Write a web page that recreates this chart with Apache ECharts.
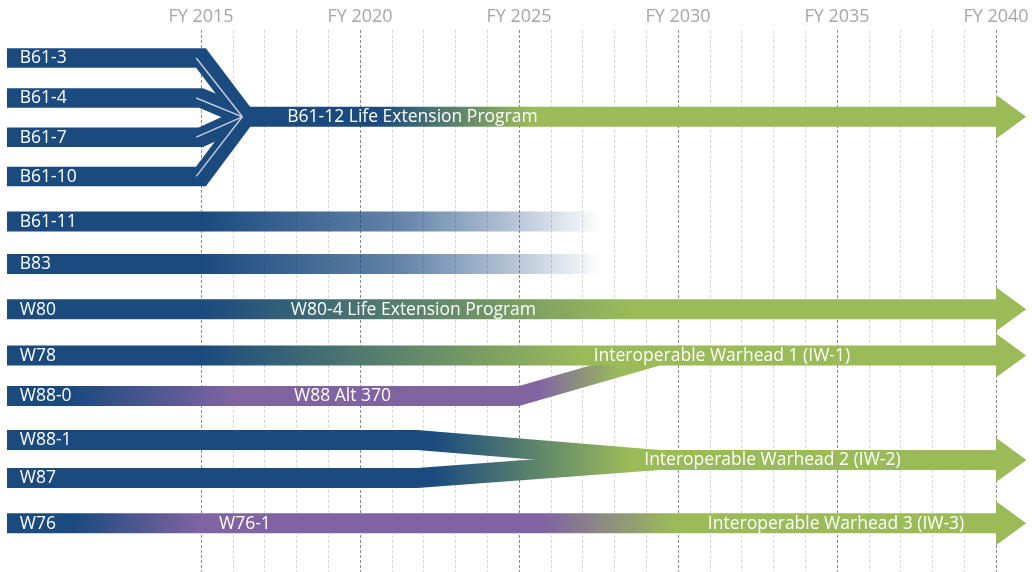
<!DOCTYPE html>
<html>
<head>
<meta charset="utf-8">
<script src="https://cdn.jsdelivr.net/npm/echarts@6/dist/echarts.min.js"></script>
<style>
html,body{margin:0;padding:0;background:#ffffff;}
#c{width:1032px;height:572px;}
</style>
</head>
<body>
<div id="c"></div>
<script>
// ---------------- DATA ----------------
const tickYears = [2015, 2020, 2025, 2030, 2035, 2040];
const tickLabels = ['FY 2015', 'FY 2020', 'FY 2025', 'FY 2030', 'FY 2035', 'FY 2040'];

// current systems (left labels) and the lane (row) each sits on
const rowNames = ['B61-3', 'B61-4', 'B61-7', 'B61-10', 'B61-11', 'B83', 'W80', 'W78', 'W88-0', 'W88-1', 'W87', 'W76'];
const rowLanes = [0.00, 1.00, 1.98, 2.96, 4.09, 5.15, 6.28, 7.44, 8.45, 9.55, 10.50, 11.63];
const rowStartYear = 2008.9;
const rowLabelYear = 2009.3;

// B61 family consolidation
const b61BendYear = 2015.0;
const b61MergeYear = 2016.4;
const b61SeamStartYear = 2014.85;
const b61SeamEndYear = 2016.3;

// follow-on programs (arrows to FY 2040)
const programNames = ['B61-12 Life Extension Program', 'W80-4 Life Extension Program', 'Interoperable Warhead 1 (IW-1)', 'Interoperable Warhead 2 (IW-2)', 'Interoperable Warhead 3 (IW-3)'];
const programLanes = [1.47, 6.28, 7.44, 10.05, 11.63];
const programStartYears = [2016.0, 2008.9, 2008.9, 2029.43, 2008.9];
const programLabelYears = [2021.65, 2021.68, 2031.38, 2032.97, 2034.97];
const programEndYear = 2040;
const arrowTipYear = 2040.95;

// retiring systems fade out
const fadeRows = ['B61-11', 'B83'];
const fadeEndYear = 2028.0;

// alterations
const altNames = ['W88 Alt 370', 'W76-1'];
const altLanes = [8.45, 11.63];
const altLabelYears = [2019.45, 2016.38];
const w880BendYear = 2025.0;     // W88-0 turns up into IW-1
const w880JoinYear = 2029.43;
const w881BendYear = 2021.8;     // W88-1 / W87 converge into IW-2

// colour transition years
const transB61_12 = [2020.6, 2025.4];
const transW80 = [2015.0, 2028.5];
const transW78 = [2015.0, 2027.0];
const transFade = [2015.0, 2021.3, 2024.5, 2027.6];
const transW88_0 = [2011.0, 2016.0, 2025.6, 2028.2];
const transIW2 = [2022.3, 2028.5];
const transW76 = [2011.0, 2015.0, 2025.8, 2029.9];

// ---------------- STYLE ----------------
const BLUE = '#1b4a7f', GREEN = '#9bbb59', PURPLE = '#8064a2';
const FADE_COLORS = [BLUE, 'rgba(27,74,127,0.68)', 'rgba(27,74,127,0.36)', 'rgba(27,74,127,0)'];
const BAR_HALF = 10, B61_STROKE = 19.5, ARROW_HALF = 22;
const FONT = '"Open Sans", "Noto Sans", sans-serif';
const LABEL_SIZE = 17.5, TICK_SIZE = 18;

function lane(name) { return rowLanes[rowNames.indexOf(name)]; }

// shape list (draw order)
const shapes = [];
for (let i = 0; i < 4; i++) {
  shapes.push({kind: 'stroke', pts: [[rowStartYear, rowLanes[i]], [b61BendYear, rowLanes[i]], [b61MergeYear, programLanes[0]]]});
}
shapes.push({kind: 'band', arrow: true, pts: [[programStartYears[0], programLanes[0]], [programEndYear, programLanes[0]]],
  grad: {years: transB61_12, colors: [BLUE, GREEN]}});
fadeRows.forEach(function (n) {
  shapes.push({kind: 'band', pts: [[rowStartYear, lane(n)], [fadeEndYear, lane(n)]], grad: {years: transFade, colors: FADE_COLORS}});
});
shapes.push({kind: 'band', arrow: true, pts: [[rowStartYear, programLanes[1]], [programEndYear, programLanes[1]]],
  grad: {years: transW80, colors: [BLUE, GREEN]}});
shapes.push({kind: 'band', pts: [[rowStartYear, lane('W88-0')], [w880BendYear, lane('W88-0')], [w880JoinYear, programLanes[2]]],
  grad: {years: transW88_0, colors: [BLUE, PURPLE, PURPLE, GREEN]}});
shapes.push({kind: 'band', arrow: true, pts: [[rowStartYear, programLanes[2]], [programEndYear, programLanes[2]]],
  grad: {years: transW78, colors: [BLUE, GREEN]}});
['W88-1', 'W87'].forEach(function (n) {
  shapes.push({kind: 'band', arrow: true, pts: [[rowStartYear, lane(n)], [w881BendYear, lane(n)], [programStartYears[3], programLanes[3]], [programEndYear, programLanes[3]]],
    grad: {years: transIW2, colors: [BLUE, GREEN]}});
});
shapes.push({kind: 'band', arrow: true, pts: [[rowStartYear, programLanes[4]], [programEndYear, programLanes[4]]],
  grad: {years: transW76, colors: [BLUE, PURPLE, PURPLE, GREEN]}});
for (let i = 0; i < 4; i++) {
  shapes.push({kind: 'seam', pts: [[b61SeamStartYear, rowLanes[i]], [b61SeamEndYear, programLanes[0]]]});
}
rowNames.forEach(function (n, i) {
  shapes.push({kind: 'text', text: n, pts: [[rowLabelYear, rowLanes[i]]], align: 'left'});
});
programNames.forEach(function (n, i) {
  shapes.push({kind: 'text', text: n, pts: [[programLabelYears[i], programLanes[i]]], align: 'center'});
});
altNames.forEach(function (n, i) {
  shapes.push({kind: 'text', text: n, pts: [[altLabelYears[i], altLanes[i]]], align: 'center'});
});

function makeGrad(api, g) {
  const y0 = g.years[0], y1 = g.years[g.years.length - 1];
  const x0 = api.coord([y0, 0])[0], x1 = api.coord([y1, 0])[0];
  return {
    type: 'linear', x: x0, y: 0, x2: x1, y2: 0, global: true,
    colorStops: g.years.map(function (y, k) { return {offset: (y - y0) / (y1 - y0), color: g.colors[k]}; })
  };
}

function renderItem(params, api) {
  const s = shapes[params.dataIndex];
  const pts = s.pts.map(function (p) { return api.coord(p); });
  const z2 = params.dataIndex;
  if (s.kind === 'stroke') {
    return {type: 'polyline', z2: z2, shape: {points: pts},
      style: {stroke: BLUE, fill: null, lineWidth: B61_STROKE, lineJoin: 'miter', miterLimit: 10, lineCap: 'butt'}};
  }
  if (s.kind === 'seam') {
    return {type: 'line', z2: z2, shape: {x1: pts[0][0], y1: pts[0][1], x2: pts[1][0], y2: pts[1][1]},
      style: {stroke: 'rgba(205,213,224,0.95)', lineWidth: 1.4}};
  }
  if (s.kind === 'text') {
    return {type: 'text', z2: z2, x: pts[0][0], y: pts[0][1] + 0.5,
      style: {text: s.text, fill: '#ffffff', fontSize: LABEL_SIZE, fontFamily: FONT, align: s.align, verticalAlign: 'middle'}};
  }
  const poly = pts.map(function (p) { return [p[0], p[1] - BAR_HALF]; });
  const last = pts[pts.length - 1];
  if (s.arrow) {
    const tipX = api.coord([arrowTipYear, 0])[0];
    poly.push([last[0], last[1] - ARROW_HALF], [tipX, last[1]], [last[0], last[1] + ARROW_HALF]);
  }
  const bottom = pts.map(function (p) { return [p[0], p[1] + BAR_HALF]; }).reverse();
  return {type: 'polygon', z2: z2, shape: {points: poly.concat(bottom)}, style: {fill: makeGrad(api, s.grad)}};
}

const chart = echarts.init(document.getElementById('c'), null, {renderer: 'canvas'});
chart.setOption({
  animation: false,
  backgroundColor: '#ffffff',
  grid: {left: 201, right: 36, top: 30, bottom: 0, containLabel: false},
  xAxis: {
    type: 'value', position: 'top', min: 2015, max: 2040, interval: 1,
    axisLine: {show: false}, axisTick: {show: false},
    axisLabel: {
      margin: 4, color: '#a6a6a6', fontSize: TICK_SIZE, fontFamily: FONT,
      formatter: function (v) { const k = tickYears.indexOf(v); return k >= 0 ? tickLabels[k] : ''; }
    },
    splitLine: {show: true, showMinLine: true, showMaxLine: true,
      lineStyle: {color: ['#8a8a8a', '#d6d6d6', '#d6d6d6', '#d6d6d6', '#d6d6d6'], type: [3, 2], width: 1}}
  },
  yAxis: {
    type: 'value', inverse: true, min: -0.7, max: 12.85, show: false,
    splitLine: {show: false}
  },
  series: [{
    type: 'custom', silent: true, clip: false,
    renderItem: renderItem,
    data: shapes.map(function (s) { return [s.pts[0][0], s.pts[0][1]]; })
  }]
});
</script>
</body>
</html>
